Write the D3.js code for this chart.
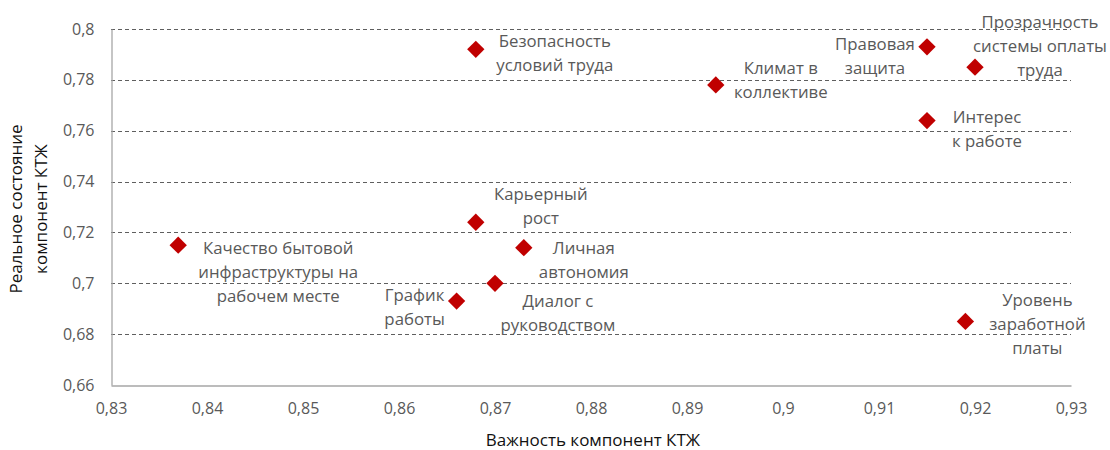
<!DOCTYPE html>
<html>
<head>
<meta charset="utf-8">
<script src="https://cdn.jsdelivr.net/npm/d3@7"></script>
<style>
  html, body { margin: 0; padding: 0; background: #fff; }
  svg text { font-family: "Open Sans", "DejaVu Sans", sans-serif; }
</style>
</head>
<body>
<svg id="chart" width="1110" height="450"></svg>
<script>
// Components of quality of working life: importance (x) vs. actual state (y)
const components = [
  "Качество бытовой инфраструктуры на рабочем месте",
  "Безопасность условий труда",
  "Климат в коллективе",
  "Правовая защита",
  "Прозрачность системы оплаты труда",
  "Интерес к работе",
  "Карьерный рост",
  "Личная автономия",
  "Диалог с руководством",
  "График работы",
  "Уровень заработной платы"
];
const importance = [0.837, 0.868, 0.893, 0.915, 0.920, 0.915, 0.868, 0.873, 0.870, 0.866, 0.919];
const actualState = [0.715, 0.792, 0.778, 0.793, 0.785, 0.764, 0.724, 0.714, 0.700, 0.693, 0.685];

// Line breaks used in the point labels
const labelLines = [
  ["Качество бытовой", "инфраструктуры на", "рабочем месте"],
  ["Безопасность", "условий труда"],
  ["Климат в", "коллективе"],
  ["Правовая", "защита"],
  ["Прозрачность", "системы оплаты", "труда"],
  ["Интерес", "к работе"],
  ["Карьерный", "рост"],
  ["Личная", "автономия"],
  ["Диалог с", "руководством"],
  ["График", "работы"],
  ["Уровень", "заработной", "платы"]
];

const xTicks = [0.83, 0.84, 0.85, 0.86, 0.87, 0.88, 0.89, 0.90, 0.91, 0.92, 0.93];
const yTicks = [0.66, 0.68, 0.70, 0.72, 0.74, 0.76, 0.78, 0.80];
const xTitle = "Важность компонент КТЖ";
const yTitle = ["Реальное состояние", "компонент КТЖ"];

// Label block placement relative to its marker: centre offset (dx) and first-line offset (dy)
const labelOffset = [
  [100, 2], [79, -9], [65, -17], [-52, -3], [65, -46], [60, -4],
  [65, -29], [60, 0], [63, 17], [-42, -7], [72, -22]
];

const svg = d3.select("#chart");
const x = d3.scaleLinear().domain([0.83, 0.93]).range([111, 1071]);
const y = d3.scaleLinear().domain([0.66, 0.80]).range([385, 29]);

const fmt = v => d3.format("")(+v.toFixed(2)).replace(".", ",");
const tickColor = "#595959";

// Horizontal dashed gridlines
svg.append("g")
  .selectAll("line")
  .data(yTicks.filter(t => t > 0.66))
  .join("line")
  .attr("x1", x(0.83)).attr("x2", x(0.93))
  .attr("y1", d => Math.round(y(d)) + 0.5).attr("y2", d => Math.round(y(d)) + 0.5)
  .attr("stroke", "#5f5f5f").attr("stroke-width", 1)
  .attr("stroke-dasharray", "4,3");

// Axes
const xAxis = svg.append("g")
  .attr("transform", `translate(0,${Math.round(y(0.66)) + 0.5})`)
  .call(d3.axisBottom(x).tickValues(xTicks).tickSize(0).tickPadding(17).tickFormat(fmt));
const yAxis = svg.append("g")
  .attr("transform", `translate(${Math.round(x(0.83)) + 0.5},0)`)
  .call(d3.axisLeft(y).tickValues(yTicks).tickSize(0).tickPadding(17).tickFormat(fmt));

[xAxis, yAxis].forEach(g => {
  g.select(".domain").attr("stroke", "#a6a6a6").attr("stroke-width", 1.3);
  g.selectAll("text").attr("fill", tickColor).attr("font-size", 16)
    .style("font-family", "'Open Sans', sans-serif");
});

// Axis titles
svg.append("text")
  .attr("x", (x(0.83) + x(0.93)) / 2 + 2).attr("y", 446)
  .attr("text-anchor", "middle").attr("font-size", 17).attr("fill", "#111")
  .text(xTitle);

const yt = svg.append("text")
  .attr("transform", "translate(22,209) rotate(-90)")
  .attr("text-anchor", "middle").attr("font-size", 17).attr("fill", "#111");
yTitle.forEach((t, i) => yt.append("tspan").attr("x", 0).attr("dy", i === 0 ? 0 : 25).text(t));

// Markers
const pts = importance.map((v, i) => ({ x: v, y: actualState[i], lines: labelLines[i], off: labelOffset[i], name: components[i] }));

svg.append("g")
  .selectAll("path")
  .data(pts)
  .join("path")
  .attr("d", d3.symbol().type(d3.symbolSquare).size(150))
  .attr("transform", d => `translate(${x(d.x)},${y(d.y)}) rotate(45)`)
  .attr("fill", "#c00000");

// Point labels
const lg = svg.append("g");
pts.forEach(d => {
  const t = lg.append("text")
    .attr("text-anchor", "middle")
    .attr("font-size", 16.8)
    .attr("fill", tickColor);
  d.lines.forEach((line, i) => {
    t.append("tspan")
      .attr("x", x(d.x) + d.off[0])
      .attr("y", y(d.y) + d.off[1] + i * 24)
      .attr("dominant-baseline", "central")
      .text(line);
  });
});
</script>
</body>
</html>
